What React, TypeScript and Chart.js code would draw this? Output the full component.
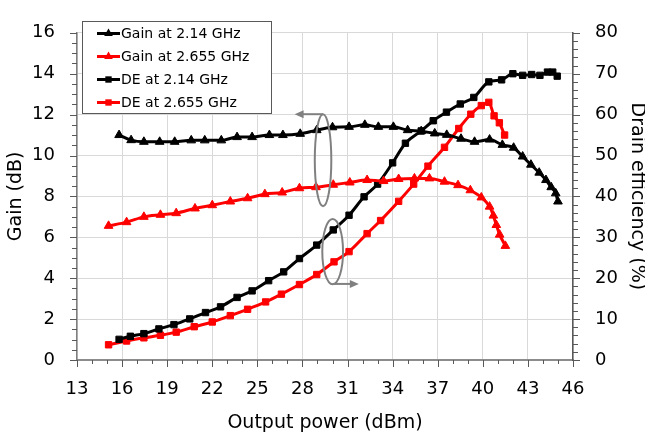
import React, { useEffect, useRef } from 'react';
import { Chart, registerables } from 'chart.js';

Chart.register(...registerables);

// ---- Data ----
const seriesNames = ['Gain at 2.14 GHz', 'Gain at 2.655 GHz', 'DE at 2.14 GHz', 'DE at 2.655 GHz'];

const gain214X = [15.8, 16.6, 17.45, 18.5, 19.5, 20.6, 21.5, 22.6, 23.65, 24.65, 25.8, 26.7, 27.85, 28.95, 30.0, 31.1, 32.15, 33.05, 34.05, 35.0, 35.9, 36.8, 37.6, 38.55, 39.45, 40.45, 41.3, 42.05, 42.65, 43.2, 43.75, 44.2, 44.55, 44.85, 45.0];
const gain214Y = [11.0, 10.75, 10.67, 10.67, 10.67, 10.74, 10.74, 10.74, 10.9, 10.9, 11.0, 11.0, 11.06, 11.24, 11.38, 11.4, 11.5, 11.4, 11.4, 11.24, 11.19, 11.08, 11.01, 10.82, 10.67, 10.78, 10.52, 10.38, 9.95, 9.55, 9.16, 8.8, 8.45, 8.15, 7.75];

const gain2655X = [15.1, 16.3, 17.45, 18.55, 19.6, 20.85, 22.0, 23.2, 24.35, 25.5, 26.65, 27.8, 28.9, 30.05, 31.15, 32.3, 33.4, 34.4, 35.45, 36.45, 37.45, 38.35, 39.17, 39.9, 40.45, 40.7, 40.9, 41.12, 41.5];
const gain2655Y = [6.56, 6.74, 7.0, 7.1, 7.18, 7.41, 7.57, 7.75, 7.91, 8.11, 8.19, 8.4, 8.45, 8.57, 8.68, 8.8, 8.75, 8.85, 8.88, 8.88, 8.72, 8.55, 8.3, 7.95, 7.5, 7.06, 6.6, 6.13, 5.58];

const de214X = [15.8, 16.55, 17.45, 18.45, 19.45, 20.5, 21.55, 22.55, 23.65, 24.65, 25.75, 26.75, 27.8, 28.95, 30.05, 31.1, 32.1, 33.0, 34.0, 34.85, 35.9, 36.7, 37.58, 38.5, 39.4, 40.4, 41.25, 42.0, 42.65, 43.25, 43.8, 44.3, 44.65, 44.95];
const de214Y = [5.05, 5.8, 6.45, 7.6, 8.65, 10.05, 11.6, 13.0, 15.3, 16.9, 19.4, 21.55, 24.8, 28.1, 31.8, 35.4, 39.9, 43.0, 48.2, 53.0, 56.0, 58.5, 60.6, 62.6, 64.2, 68.0, 68.5, 70.0, 69.6, 69.8, 69.6, 70.4, 70.4, 69.4];

const de2655X = [15.1, 16.3, 17.45, 18.55, 19.6, 20.8, 22.0, 23.2, 24.35, 25.55, 26.6, 27.8, 28.95, 30.1, 31.1, 32.3, 33.2, 34.4, 35.4, 36.35, 37.45, 38.4, 39.2, 39.9, 40.4, 40.75, 41.1, 41.45];
const de2655Y = [3.72, 4.65, 5.42, 6.05, 6.81, 8.14, 9.3, 10.85, 12.4, 14.2, 16.1, 18.45, 20.9, 24.0, 26.5, 30.9, 34.1, 38.8, 43.0, 47.4, 52.0, 56.6, 60.1, 62.2, 63.0, 59.7, 58.0, 55.0];

// Axis ranges / ticks
const X_MIN = 13, X_MAX = 46, X_STEP = 3, X_MINOR = 1;
const GAIN_MIN = 0, GAIN_MAX = 16, GAIN_STEP = 2, GAIN_MINOR = 0.5;
const DE_MIN = 0, DE_MAX = 80, DE_STEP = 10, DE_MINOR = 2;

const xTitle = 'Output power (dBm)';
const gainTitle = 'Gain (dB)';
const deTitle = 'Drain efficiency (%)';

// Annotation ellipses (data coordinates on gain axis) with arrows
// [cx, cy, rx, ry, arrowFromX, arrowFromY, arrowToX]
const ellipseGain = [29.37, 9.77, 0.55, 2.25, 29.37, 12.02, 27.48];
const ellipseDE = [30.01, 5.3, 0.69, 1.6, 30.01, 3.72, 31.75];

const FONT = 'DejaVu Sans';
const colors = ['#000000', '#ff0000', '#000000', '#ff0000'];
const styles = ['triangle', 'triangle', 'rect', 'rect'];

const toPts = (xs: number[], ys: number[]) => xs.map((x, i) => ({ x, y: ys[i] }));

const isMultiple = (v: number, base: number, step: number) => {
  const r = (v - base) / step;
  return Math.abs(r - Math.round(r)) < 1e-6;
};

const tickMarksPlugin = {
  id: 'tickMarks',
  afterDraw(chart: any) {
    const { ctx, chartArea, scales } = chart;
    ctx.save();
    ctx.strokeStyle = '#595959';
    ctx.lineWidth = 1;
    const xs = scales.x;
    for (let v = X_MIN; v <= X_MAX + 1e-9; v += X_MINOR) {
      const p = Math.round(xs.getPixelForValue(v)) + 0.5;
      const len = isMultiple(v, X_MIN, X_STEP) ? 7 : 4;
      ctx.beginPath();
      ctx.moveTo(p, chartArea.bottom);
      ctx.lineTo(p, chartArea.bottom + len);
      ctx.stroke();
    }
    const yl = scales.y;
    for (let v = GAIN_MIN; v <= GAIN_MAX + 1e-9; v += GAIN_MINOR) {
      const p = Math.round(yl.getPixelForValue(v)) + 0.5;
      const len = isMultiple(v, GAIN_MIN, GAIN_STEP) ? 7 : 5;
      ctx.beginPath();
      ctx.moveTo(chartArea.left, p);
      ctx.lineTo(chartArea.left - len, p);
      ctx.stroke();
    }
    const yr = scales.y1;
    for (let v = DE_MIN; v <= DE_MAX + 1e-9; v += DE_MINOR) {
      const p = Math.round(yr.getPixelForValue(v)) + 0.5;
      const len = isMultiple(v, DE_MIN, DE_STEP) ? 7 : 5;
      ctx.beginPath();
      ctx.moveTo(chartArea.right, p);
      ctx.lineTo(chartArea.right + len, p);
      ctx.stroke();
    }
    ctx.restore();
  },
};

function drawArrow(ctx: any, x1: number, y1: number, x2: number, y2: number) {
  ctx.beginPath();
  ctx.moveTo(x1, y1);
  const dir = Math.sign(x2 - x1);
  ctx.lineTo(x2 - dir * 6, y2);
  ctx.stroke();
  ctx.beginPath();
  ctx.moveTo(x2, y2);
  ctx.lineTo(x2 - dir * 9, y2 - 4);
  ctx.lineTo(x2 - dir * 9, y2 + 4);
  ctx.closePath();
  ctx.fill();
}

const annotationPlugin = {
  id: 'ellipses',
  afterDatasetsDraw(chart: any) {
    const { ctx, scales } = chart;
    const xs = scales.x, ys = scales.y;
    ctx.save();
    ctx.strokeStyle = '#808080';
    ctx.fillStyle = '#808080';
    ctx.lineWidth = 2;
    for (const e of [ellipseGain, ellipseDE]) {
      const [cx, cy, rx, ry, ax, ay, tx] = e;
      const pcx = xs.getPixelForValue(cx), pcy = ys.getPixelForValue(cy);
      const prx = Math.abs(xs.getPixelForValue(cx + rx) - pcx);
      const pry = Math.abs(ys.getPixelForValue(cy + ry) - pcy);
      ctx.beginPath();
      ctx.ellipse(pcx, pcy, prx, pry, 0, 0, Math.PI * 2);
      ctx.stroke();
      drawArrow(ctx, xs.getPixelForValue(ax), ys.getPixelForValue(ay), xs.getPixelForValue(tx), ys.getPixelForValue(ay));
    }
    ctx.restore();
  },
};

function drawMarker(ctx: any, style: string, x: number, y: number, r: number) {
  ctx.beginPath();
  if (style === 'triangle') {
    for (let i = 0; i < 3; i++) {
      const a = (i * 2 * Math.PI) / 3;
      const px = x + Math.sin(a) * r, py = y - Math.cos(a) * r;
      if (i === 0) ctx.moveTo(px, py); else ctx.lineTo(px, py);
    }
    ctx.closePath();
  } else {
    const s = Math.SQRT1_2 * r;
    ctx.rect(x - s, y - s, 2 * s, 2 * s);
  }
  ctx.fill();
}

const legendPlugin = {
  id: 'boxLegend',
  afterDraw(chart: any) {
    const { ctx } = chart;
    ctx.save();
    const bx = 82.5, by = 21.5, bw = 189, bh = 92;
    ctx.fillStyle = '#ffffff';
    ctx.fillRect(bx, by, bw, bh);
    ctx.strokeStyle = '#595959';
    ctx.lineWidth = 1;
    ctx.strokeRect(bx, by, bw, bh);
    ctx.font = `14px "${FONT}"`;
    ctx.textBaseline = 'middle';
    ctx.textAlign = 'left';
    seriesNames.forEach((name, i) => {
      const y = 33.5 + i * 23;
      ctx.strokeStyle = colors[i];
      ctx.fillStyle = colors[i];
      ctx.lineWidth = 3;
      ctx.beginPath();
      ctx.moveTo(97, y);
      ctx.lineTo(120, y);
      ctx.stroke();
      drawMarker(ctx, styles[i], 108.5, y, styles[i] === 'triangle' ? 5 : 4.5);
      ctx.fillStyle = '#000000';
      ctx.fillText(name, 121, y + 1);
    });
    ctx.restore();
  },
};

export default function App() {
  const ref = useRef<HTMLCanvasElement>(null);
  useEffect(() => {
    document.body.style.margin = '0';
    const canvas = ref.current!;
    const mk = (i: number, xs: number[], ys: number[], axis: string) => ({
      label: seriesNames[i],
      data: toPts(xs, ys),
      yAxisID: axis,
      borderColor: colors[i],
      backgroundColor: colors[i],
      borderWidth: 3,
      pointStyle: styles[i],
      pointRadius: styles[i] === 'triangle' ? 5 : 4.5,
      pointBorderWidth: 1,
      pointBorderColor: colors[i],
      pointBackgroundColor: colors[i],
      cubicInterpolationMode: 'monotone',
      fill: false,
    });
    const tickFont = { family: FONT, size: 18 };
    const chart = new Chart(canvas, {
      type: 'line',
      data: {
        datasets: [
          mk(0, gain214X, gain214Y, 'y'),
          mk(1, gain2655X, gain2655Y, 'y'),
          mk(2, de214X, de214Y, 'y1'),
          mk(3, de2655X, de2655Y, 'y1'),
        ] as any,
      },
      options: {
        animation: false,
        responsive: false,
        devicePixelRatio: 1,
        layout: { padding: { top: 16, left: 0, right: 0, bottom: 0 } },
        plugins: { legend: { display: false }, tooltip: { enabled: false } },
        scales: {
          x: {
            type: 'linear',
            min: X_MIN,
            max: X_MAX,
            ticks: { stepSize: X_STEP, color: '#000', font: tickFont, padding: 19, maxRotation: 0 },
            grid: { color: '#d9d9d9', lineWidth: 1, drawTicks: false },
            border: { display: true, color: '#8c8c8c', width: 2 },
            title: { display: true, text: xTitle, color: '#000', font: { family: FONT, size: 19 }, padding: { top: 0, bottom: 1 } },
            afterFit: (s: any) => { s.height = 75; },
          },
          y: {
            type: 'linear',
            position: 'left',
            min: GAIN_MIN,
            max: GAIN_MAX,
            ticks: { stepSize: GAIN_STEP, color: '#000', font: tickFont, padding: 22 },
            grid: { color: '#d9d9d9', lineWidth: 1, drawTicks: false },
            border: { display: true, color: '#7f7f7f', width: 1.5 },
            title: { display: true, text: gainTitle, color: '#000', font: { family: FONT, size: 19 }, padding: { top: 5, bottom: 0 } },
            afterFit: (s: any) => { s.width = 77; },
          },
          y1: {
            type: 'linear',
            position: 'right',
            min: DE_MIN,
            max: DE_MAX,
            ticks: { stepSize: DE_STEP, color: '#000', font: tickFont, padding: 22 },
            grid: { display: false, drawTicks: false },
            border: { display: true, color: '#595959', width: 1.5 },
            title: { display: true, text: deTitle, color: '#000', font: { family: FONT, size: 19, lineHeight: 0.9 }, padding: { top: 0, bottom: 0 } },
            afterFit: (s: any) => { s.width = 72; },
          },
        },
      } as any,
      plugins: [tickMarksPlugin, annotationPlugin, legendPlugin],
    });
    return () => chart.destroy();
  }, []);
  return (
    <div style={{ position: 'absolute', left: 0, top: 0, width: 645, height: 435, background: '#fff' }}>
      <canvas ref={ref} width={645} height={435} style={{ width: 645, height: 435, display: 'block' }} />
    </div>
  );
}
